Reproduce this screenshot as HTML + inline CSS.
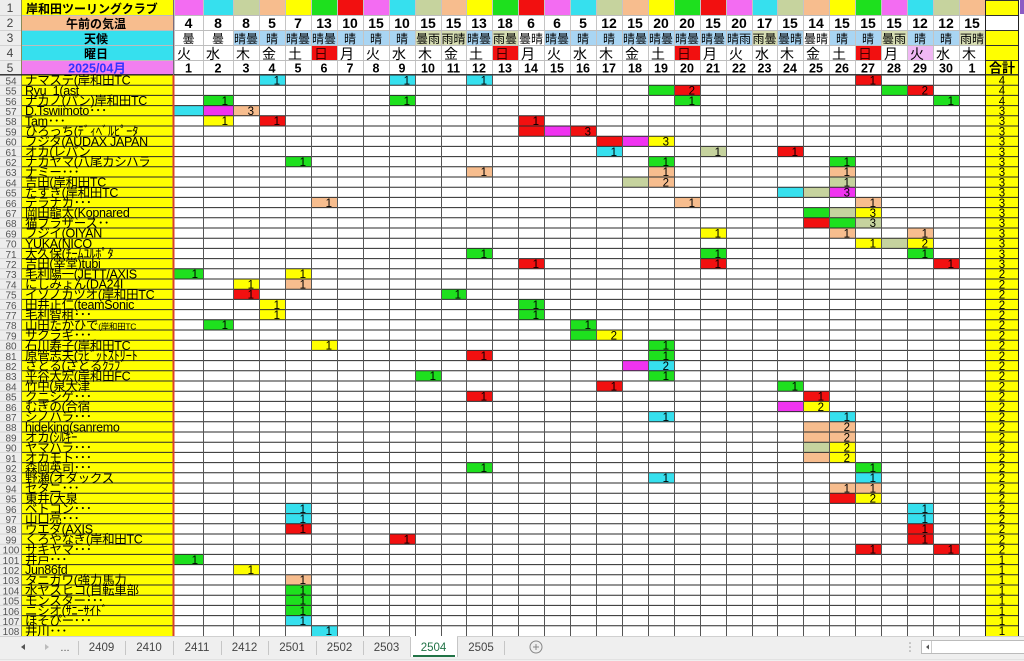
<!DOCTYPE html>
<html><head><meta charset="utf-8">
<style>
html,body{margin:0;padding:0;background:#fff;width:1024px;height:661px;overflow:hidden}
svg{display:block}
.P{fill:#f36cf2}.C{fill:#36e0ee}.G{fill:#c6d39e}.O{fill:#f7bd8e}.Y{fill:#ffff00}.N{fill:#1ee01e}.R{fill:#f21010}.M{fill:#f033f0}.L{fill:#a9d5f3}.H{fill:#d6ddb3}
text{font-family:"Liberation Sans","Noto Sans CJK JP",sans-serif}
.n{font-size:11.5px;text-anchor:end;fill:#000}
.t{font-size:11.5px;text-anchor:middle;fill:#000}
.rn{font-size:10px;text-anchor:middle;fill:#555}
.nm{font-size:12.5px;fill:#000;letter-spacing:-0.3px}
.h2{font-size:14px;font-weight:bold;text-anchor:middle}
.h3{font-size:12px;text-anchor:middle}
.h4{font-size:14px}
.h5{font-size:12.5px;font-weight:bold;text-anchor:middle}
.tab{font-size:11.5px;text-anchor:middle;fill:#444}
</style></head>
<body>
<svg width="1024" height="661" viewBox="0 0 1024 661" xmlns="http://www.w3.org/2000/svg">
<rect x="0" y="0" width="1024" height="661" fill="#fff"/>
<rect x="0" y="0" width="22" height="636" fill="#ededed"/>
<rect x="22" y="0" width="152" height="15" class="Y"/>
<rect x="22" y="15" width="152" height="15" class="O"/>
<rect x="22" y="30" width="152" height="31" class="C"/>
<rect x="22" y="61" width="152" height="14" fill="#f27ff0"/>
<rect x="22" y="75" width="151" height="561" class="Y"/>
<rect x="985" y="0" width="34" height="15" class="Y"/>
<rect x="985" y="30" width="34" height="606" class="Y"/>
<rect x="1020" y="0" width="4" height="14" fill="#8b5cc4"/>

<g>
<rect class="P" x="174" y="0" width="29" height="15"/><rect class="C" x="203" y="0" width="30" height="15"/><rect class="G" x="233" y="0" width="26" height="15"/><rect class="O" x="259" y="0" width="26" height="15"/><rect class="Y" x="285" y="0" width="26" height="15"/><rect class="N" x="311" y="0" width="26" height="15"/><rect class="R" x="337" y="0" width="26" height="15"/><rect class="P" x="363" y="0" width="26" height="15"/><rect class="C" x="389" y="0" width="26" height="15"/><rect class="G" x="415" y="0" width="26" height="15"/><rect class="O" x="441" y="0" width="25" height="15"/><rect class="Y" x="466" y="0" width="26" height="15"/><rect class="N" x="492" y="0" width="26" height="15"/><rect class="R" x="518" y="0" width="26" height="15"/><rect class="P" x="544" y="0" width="26" height="15"/><rect class="C" x="570" y="0" width="26" height="15"/><rect class="G" x="596" y="0" width="26" height="15"/><rect class="O" x="622" y="0" width="26" height="15"/><rect class="Y" x="648" y="0" width="26" height="15"/><rect class="N" x="674" y="0" width="26" height="15"/><rect class="R" x="700" y="0" width="26" height="15"/><rect class="P" x="726" y="0" width="26" height="15"/><rect class="C" x="752" y="0" width="25" height="15"/><rect class="G" x="777" y="0" width="26" height="15"/><rect class="O" x="803" y="0" width="26" height="15"/><rect class="Y" x="829" y="0" width="26" height="15"/><rect class="N" x="855" y="0" width="26" height="15"/><rect class="P" x="881" y="0" width="26" height="15"/><rect class="C" x="907" y="0" width="26" height="15"/><rect class="G" x="933" y="0" width="26" height="15"/><rect class="O" x="959" y="0" width="26" height="15"/>
</g>
<g>
<rect class="L" x="234" y="31" width="25" height="15"/><rect class="L" x="260" y="31" width="25" height="15"/><rect class="L" x="286" y="31" width="25" height="15"/><rect class="L" x="312" y="31" width="25" height="15"/><rect class="L" x="338" y="31" width="25" height="15"/><rect class="L" x="364" y="31" width="25" height="15"/><rect class="L" x="390" y="31" width="25" height="15"/><rect class="H" x="416" y="31" width="25" height="15"/><rect class="H" x="442" y="31" width="24" height="15"/><rect class="L" x="467" y="31" width="25" height="15"/><rect class="H" x="493" y="31" width="25" height="15"/><rect class="L" x="545" y="31" width="25" height="15"/><rect class="L" x="571" y="31" width="25" height="15"/><rect class="L" x="597" y="31" width="25" height="15"/><rect class="L" x="623" y="31" width="25" height="15"/><rect class="L" x="649" y="31" width="25" height="15"/><rect class="L" x="675" y="31" width="25" height="15"/><rect class="L" x="701" y="31" width="25" height="15"/><rect class="L" x="727" y="31" width="25" height="15"/><rect class="H" x="753" y="31" width="24" height="15"/><rect class="L" x="778" y="31" width="25" height="15"/><rect class="L" x="830" y="31" width="25" height="15"/><rect class="L" x="856" y="31" width="25" height="15"/><rect class="H" x="882" y="31" width="25" height="15"/><rect class="L" x="908" y="31" width="25" height="15"/><rect class="L" x="934" y="31" width="25" height="15"/><rect class="H" x="960" y="31" width="25" height="15"/>
</g>
<rect class="R" x="311" y="46" width="26" height="15"/><rect class="R" x="492" y="46" width="26" height="15"/><rect class="R" x="674" y="46" width="26" height="15"/><rect class="R" x="855" y="46" width="26" height="15"/><rect fill="#f0b8f4" x="907" y="46" width="26" height="15"/>

<g>
<rect class="C" x="259" y="75" width="26" height="10.2"/><rect class="C" x="389" y="75" width="26" height="10.2"/><rect class="C" x="466" y="75" width="26" height="10.2"/><rect class="R" x="855" y="75" width="26" height="10.2"/>
<rect class="N" x="648" y="85.2" width="26" height="10.2"/><rect class="R" x="674" y="85.2" width="26" height="10.2"/><rect class="N" x="881" y="85.2" width="26" height="10.2"/><rect class="R" x="907" y="85.2" width="26" height="10.2"/>
<rect class="N" x="203" y="95.4" width="30" height="10.2"/><rect class="N" x="389" y="95.4" width="26" height="10.2"/><rect class="N" x="674" y="95.4" width="26" height="10.2"/><rect class="N" x="933" y="95.4" width="26" height="10.2"/>
<rect class="C" x="174" y="105.6" width="29" height="10.2"/><rect class="M" x="203" y="105.6" width="30" height="10.2"/><rect class="O" x="233" y="105.6" width="26" height="10.2"/>
<rect class="Y" x="203" y="115.8" width="30" height="10.2"/><rect class="R" x="259" y="115.8" width="26" height="10.2"/><rect class="R" x="518" y="115.8" width="26" height="10.2"/>
<rect class="R" x="518" y="126" width="26" height="10.2"/><rect class="M" x="544" y="126" width="26" height="10.2"/><rect class="R" x="570" y="126" width="26" height="10.2"/>
<rect class="R" x="596" y="136.2" width="26" height="10.2"/><rect class="M" x="622" y="136.2" width="26" height="10.2"/><rect class="Y" x="648" y="136.2" width="26" height="10.2"/>
<rect class="C" x="596" y="146.4" width="26" height="10.2"/><rect class="G" x="700" y="146.4" width="26" height="10.2"/><rect class="R" x="777" y="146.4" width="26" height="10.2"/>
<rect class="N" x="285" y="156.6" width="26" height="10.2"/><rect class="N" x="648" y="156.6" width="26" height="10.2"/><rect class="N" x="829" y="156.6" width="26" height="10.2"/>
<rect class="O" x="466" y="166.8" width="26" height="10.2"/><rect class="O" x="648" y="166.8" width="26" height="10.2"/><rect class="O" x="829" y="166.8" width="26" height="10.2"/>
<rect class="G" x="622" y="177" width="26" height="10.2"/><rect class="O" x="648" y="177" width="26" height="10.2"/><rect class="G" x="829" y="177" width="26" height="10.2"/>
<rect class="C" x="777" y="187.2" width="26" height="10.2"/><rect class="G" x="803" y="187.2" width="26" height="10.2"/><rect class="M" x="829" y="187.2" width="26" height="10.2"/>
<rect class="O" x="311" y="197.4" width="26" height="10.2"/><rect class="O" x="674" y="197.4" width="26" height="10.2"/><rect class="O" x="855" y="197.4" width="26" height="10.2"/>
<rect class="N" x="803" y="207.6" width="26" height="10.2"/><rect class="G" x="829" y="207.6" width="26" height="10.2"/><rect class="Y" x="855" y="207.6" width="26" height="10.2"/>
<rect class="R" x="803" y="217.8" width="26" height="10.2"/><rect class="N" x="829" y="217.8" width="26" height="10.2"/><rect class="G" x="855" y="217.8" width="26" height="10.2"/>
<rect class="Y" x="700" y="228" width="26" height="10.2"/><rect class="O" x="829" y="228" width="26" height="10.2"/><rect class="O" x="907" y="228" width="26" height="10.2"/>
<rect class="Y" x="855" y="238.2" width="26" height="10.2"/><rect class="G" x="881" y="238.2" width="26" height="10.2"/><rect class="Y" x="907" y="238.2" width="26" height="10.2"/>
<rect class="N" x="466" y="248.4" width="26" height="10.2"/><rect class="N" x="700" y="248.4" width="26" height="10.2"/><rect class="N" x="907" y="248.4" width="26" height="10.2"/>
<rect class="R" x="518" y="258.6" width="26" height="10.2"/><rect class="R" x="700" y="258.6" width="26" height="10.2"/><rect class="R" x="933" y="258.6" width="26" height="10.2"/>
<rect class="N" x="174" y="268.8" width="29" height="10.2"/><rect class="Y" x="285" y="268.8" width="26" height="10.2"/>
<rect class="Y" x="233" y="279" width="26" height="10.2"/><rect class="O" x="285" y="279" width="26" height="10.2"/>
<rect class="R" x="233" y="289.2" width="26" height="10.2"/><rect class="N" x="441" y="289.2" width="25" height="10.2"/>
<rect class="Y" x="259" y="299.4" width="26" height="10.2"/><rect class="N" x="518" y="299.4" width="26" height="10.2"/>
<rect class="Y" x="259" y="309.6" width="26" height="10.2"/><rect class="N" x="518" y="309.6" width="26" height="10.2"/>
<rect class="N" x="203" y="319.8" width="30" height="10.2"/><rect class="N" x="570" y="319.8" width="26" height="10.2"/>
<rect class="N" x="570" y="330" width="26" height="10.2"/><rect class="Y" x="596" y="330" width="26" height="10.2"/>
<rect class="Y" x="311" y="340.2" width="26" height="10.2"/><rect class="N" x="648" y="340.2" width="26" height="10.2"/>
<rect class="R" x="466" y="350.4" width="26" height="10.2"/><rect class="N" x="648" y="350.4" width="26" height="10.2"/>
<rect class="M" x="622" y="360.6" width="26" height="10.2"/><rect class="C" x="648" y="360.6" width="26" height="10.2"/>
<rect class="N" x="415" y="370.8" width="26" height="10.2"/><rect class="N" x="648" y="370.8" width="26" height="10.2"/>
<rect class="R" x="596" y="381" width="26" height="10.2"/><rect class="N" x="777" y="381" width="26" height="10.2"/>
<rect class="R" x="466" y="391.2" width="26" height="10.2"/><rect class="R" x="803" y="391.2" width="26" height="10.2"/>
<rect class="M" x="777" y="401.4" width="26" height="10.2"/><rect class="Y" x="803" y="401.4" width="26" height="10.2"/>
<rect class="C" x="648" y="411.6" width="26" height="10.2"/><rect class="C" x="829" y="411.6" width="26" height="10.2"/>
<rect class="O" x="803" y="421.8" width="26" height="10.2"/><rect class="O" x="829" y="421.8" width="26" height="10.2"/>
<rect class="O" x="803" y="432" width="26" height="10.2"/><rect class="O" x="829" y="432" width="26" height="10.2"/>
<rect class="G" x="803" y="442.2" width="26" height="10.2"/><rect class="Y" x="829" y="442.2" width="26" height="10.2"/>
<rect class="O" x="803" y="452.4" width="26" height="10.2"/><rect class="Y" x="829" y="452.4" width="26" height="10.2"/>
<rect class="N" x="466" y="462.6" width="26" height="10.2"/><rect class="N" x="855" y="462.6" width="26" height="10.2"/>
<rect class="C" x="648" y="472.8" width="26" height="10.2"/><rect class="C" x="855" y="472.8" width="26" height="10.2"/>
<rect class="O" x="829" y="483" width="26" height="10.2"/><rect class="O" x="855" y="483" width="26" height="10.2"/>
<rect class="R" x="829" y="493.2" width="26" height="10.2"/><rect class="Y" x="855" y="493.2" width="26" height="10.2"/>
<rect class="C" x="285" y="503.4" width="26" height="10.2"/><rect class="C" x="907" y="503.4" width="26" height="10.2"/>
<rect class="C" x="285" y="513.6" width="26" height="10.2"/><rect class="C" x="907" y="513.6" width="26" height="10.2"/>
<rect class="R" x="285" y="523.8" width="26" height="10.2"/><rect class="R" x="907" y="523.8" width="26" height="10.2"/>
<rect class="R" x="389" y="534" width="26" height="10.2"/><rect class="R" x="907" y="534" width="26" height="10.2"/>
<rect class="R" x="855" y="544.2" width="26" height="10.2"/><rect class="R" x="933" y="544.2" width="26" height="10.2"/>
<rect class="N" x="174" y="554.4" width="29" height="10.2"/>
<rect class="Y" x="233" y="564.6" width="26" height="10.2"/>
<rect class="O" x="285" y="574.8" width="26" height="10.2"/>
<rect class="N" x="285" y="585" width="26" height="10.2"/>
<rect class="N" x="285" y="595.2" width="26" height="10.2"/>
<rect class="N" x="285" y="605.4" width="26" height="10.2"/>
<rect class="C" x="285" y="615.6" width="26" height="10.2"/>
<rect class="C" x="311" y="625.8" width="26" height="10.2"/>
</g>

<path d="M174.5 0V75M203.5 0V75M233.5 0V75M259.5 0V75M285.5 0V75M311.5 0V75M337.5 0V75M363.5 0V75M389.5 0V75M415.5 0V75M441.5 0V75M466.5 0V75M492.5 0V75M518.5 0V75M544.5 0V75M570.5 0V75M596.5 0V75M622.5 0V75M648.5 0V75M674.5 0V75M700.5 0V75M726.5 0V75M752.5 0V75M777.5 0V75M803.5 0V75M829.5 0V75M855.5 0V75M881.5 0V75M907.5 0V75M933.5 0V75M959.5 0V75" stroke="#c4c4c4" stroke-width="1" fill="none"/>
<path d="M22 15.5H985M22 30.5H985M22 45.5H985M22 60.5H985" stroke="#bdbdbd" stroke-width="1" fill="none"/>
<path d="M985 0.5H1019M985 15.5H1019M985 30.5H1019M985 45.5H1019M985 60.5H1019" stroke="#333" stroke-width="1" fill="none"/>
<path d="M0 15.5H22M0 30.5H22M0 45.5H22M0 60.5H22M0 85.2H22M0 95.4H22M0 105.6H22M0 115.8H22M0 126H22M0 136.2H22M0 146.4H22M0 156.6H22M0 166.8H22M0 177H22M0 187.2H22M0 197.4H22M0 207.6H22M0 217.8H22M0 228H22M0 238.2H22M0 248.4H22M0 258.6H22M0 268.8H22M0 279H22M0 289.2H22M0 299.4H22M0 309.6H22M0 319.8H22M0 330H22M0 340.2H22M0 350.4H22M0 360.6H22M0 370.8H22M0 381H22M0 391.2H22M0 401.4H22M0 411.6H22M0 421.8H22M0 432H22M0 442.2H22M0 452.4H22M0 462.6H22M0 472.8H22M0 483H22M0 493.2H22M0 503.4H22M0 513.6H22M0 523.8H22M0 534H22M0 544.2H22M0 554.4H22M0 564.6H22M0 574.8H22M0 585H22M0 595.2H22M0 605.4H22M0 615.6H22M0 625.8H22" stroke="#d2d2d2" stroke-width="1" fill="none"/>
<line x1="21.5" y1="0" x2="21.5" y2="636" stroke="#8a8a5a" stroke-width="1"/>
<path d="M22 85.2H1019M22 95.4H1019M22 105.6H1019M22 115.8H1019M22 126H1019M22 136.2H1019M22 146.4H1019M22 156.6H1019M22 166.8H1019M22 177H1019M22 187.2H1019M22 197.4H1019M22 207.6H1019M22 217.8H1019M22 228H1019M22 238.2H1019M22 248.4H1019M22 258.6H1019M22 268.8H1019M22 279H1019M22 289.2H1019M22 299.4H1019M22 309.6H1019M22 319.8H1019M22 330H1019M22 340.2H1019M22 350.4H1019M22 360.6H1019M22 370.8H1019M22 381H1019M22 391.2H1019M22 401.4H1019M22 411.6H1019M22 421.8H1019M22 432H1019M22 442.2H1019M22 452.4H1019M22 462.6H1019M22 472.8H1019M22 483H1019M22 493.2H1019M22 503.4H1019M22 513.6H1019M22 523.8H1019M22 534H1019M22 544.2H1019M22 554.4H1019M22 564.6H1019M22 574.8H1019M22 585H1019M22 595.2H1019M22 605.4H1019M22 615.6H1019M22 625.8H1019" stroke="#2a2a2a" stroke-width="1" fill="none"/>
<line x1="0" y1="74.8" x2="1019" y2="74.8" stroke="#222" stroke-width="1.4"/>
<path d="M203.5 75V636M233.5 75V636M259.5 75V636M285.5 75V636M311.5 75V636M337.5 75V636M363.5 75V636M389.5 75V636M415.5 75V636M441.5 75V636M466.5 75V636M492.5 75V636M518.5 75V636M544.5 75V636M570.5 75V636M596.5 75V636M622.5 75V636M648.5 75V636M674.5 75V636M700.5 75V636M726.5 75V636M752.5 75V636M777.5 75V636M803.5 75V636M829.5 75V636M855.5 75V636M881.5 75V636M907.5 75V636M933.5 75V636M959.5 75V636" stroke="#555" stroke-width="1" fill="none"/>
<path d="M985.5 0V636M1018.5 0V636" stroke="#222" stroke-width="1" fill="none"/>
<rect x="172.5" y="75" width="2" height="561" fill="#d8402c"/>
<line x1="173.5" y1="0" x2="173.5" y2="75" stroke="#7a6a7a" stroke-width="1"/>

<text x="10" y="12" style="font-size:12px;text-anchor:middle;fill:#444">1</text>
<text x="10" y="27" style="font-size:12px;text-anchor:middle;fill:#444">2</text>
<text x="10" y="42" style="font-size:12px;text-anchor:middle;fill:#444">3</text>
<text x="10" y="57" style="font-size:12px;text-anchor:middle;fill:#444">4</text>
<text x="10" y="72" style="font-size:12px;text-anchor:middle;fill:#444">5</text>
<text x="26" y="13" style="font-size:12px;font-weight:bold">岸和田ツーリングクラブ</text>
<text x="96" y="28" style="font-size:12px;font-weight:bold;text-anchor:middle">午前の気温</text>
<text x="96" y="43" style="font-size:12px;font-weight:bold;text-anchor:middle">天候</text>
<text x="96" y="58" style="font-size:12px;font-weight:bold;text-anchor:middle">曜日</text>
<text x="97" y="72.5" style="font-size:12.5px;font-weight:bold;text-anchor:middle;fill:#3333ff">2025/04月</text>

<g>
<text class="h2" x="188.5" y="28">4</text><text class="h2" x="218" y="28">8</text><text class="h2" x="246" y="28">8</text><text class="h2" x="272" y="28">5</text><text class="h2" x="298" y="28">7</text><text class="h2" x="324" y="28">13</text><text class="h2" x="350" y="28">10</text><text class="h2" x="376" y="28">15</text><text class="h2" x="402" y="28">10</text><text class="h2" x="428" y="28">15</text><text class="h2" x="453.5" y="28">15</text><text class="h2" x="479" y="28">13</text><text class="h2" x="505" y="28">18</text><text class="h2" x="531" y="28">6</text><text class="h2" x="557" y="28">6</text><text class="h2" x="583" y="28">5</text><text class="h2" x="609" y="28">12</text><text class="h2" x="635" y="28">15</text><text class="h2" x="661" y="28">20</text><text class="h2" x="687" y="28">20</text><text class="h2" x="713" y="28">15</text><text class="h2" x="739" y="28">20</text><text class="h2" x="764.5" y="28">17</text><text class="h2" x="790" y="28">15</text><text class="h2" x="816" y="28">14</text><text class="h2" x="842" y="28">15</text><text class="h2" x="868" y="28">15</text><text class="h2" x="894" y="28">15</text><text class="h2" x="920" y="28">12</text><text class="h2" x="946" y="28">12</text><text class="h2" x="972" y="28">15</text>
</g>
<g>
<text class="h3" x="188.5" y="43">曇</text><text class="h3" x="218" y="43">曇</text><text class="h3" x="246" y="43">晴曇</text><text class="h3" x="272" y="43">晴</text><text class="h3" x="298" y="43">晴曇</text><text class="h3" x="324" y="43">晴曇</text><text class="h3" x="350" y="43">晴</text><text class="h3" x="376" y="43">晴</text><text class="h3" x="402" y="43">晴</text><text class="h3" x="428" y="43">曇雨</text><text class="h3" x="453.5" y="43">雨晴</text><text class="h3" x="479" y="43">晴曇</text><text class="h3" x="505" y="43">雨曇</text><text class="h3" x="531" y="43">曇晴</text><text class="h3" x="557" y="43">晴曇</text><text class="h3" x="583" y="43">晴</text><text class="h3" x="609" y="43">晴</text><text class="h3" x="635" y="43">晴曇</text><text class="h3" x="661" y="43">晴曇</text><text class="h3" x="687" y="43">晴曇</text><text class="h3" x="713" y="43">晴曇</text><text class="h3" x="739" y="43">晴雨</text><text class="h3" x="764.5" y="43">雨曇</text><text class="h3" x="790" y="43">曇晴</text><text class="h3" x="816" y="43">曇晴</text><text class="h3" x="842" y="43">晴</text><text class="h3" x="868" y="43">晴</text><text class="h3" x="894" y="43">曇雨</text><text class="h3" x="920" y="43">晴</text><text class="h3" x="946" y="43">晴</text><text class="h3" x="972" y="43">雨晴</text>
</g>
<g>
<text class="h4" x="177" y="59">火</text><text class="h4" x="206" y="59">水</text><text class="h4" x="236" y="59">木</text><text class="h4" x="262" y="59">金</text><text class="h4" x="288" y="59">土</text><text class="h4" x="314" y="59" fill="#400">日</text><text class="h4" x="340" y="59">月</text><text class="h4" x="366" y="59">火</text><text class="h4" x="392" y="59">水</text><text class="h4" x="418" y="59">木</text><text class="h4" x="444" y="59">金</text><text class="h4" x="469" y="59">土</text><text class="h4" x="495" y="59" fill="#400">日</text><text class="h4" x="521" y="59">月</text><text class="h4" x="547" y="59">火</text><text class="h4" x="573" y="59">水</text><text class="h4" x="599" y="59">木</text><text class="h4" x="625" y="59">金</text><text class="h4" x="651" y="59">土</text><text class="h4" x="677" y="59" fill="#400">日</text><text class="h4" x="703" y="59">月</text><text class="h4" x="729" y="59">火</text><text class="h4" x="755" y="59">水</text><text class="h4" x="780" y="59">木</text><text class="h4" x="806" y="59">金</text><text class="h4" x="832" y="59">土</text><text class="h4" x="858" y="59" fill="#400">日</text><text class="h4" x="884" y="59">月</text><text class="h4" x="910" y="59">火</text><text class="h4" x="936" y="59">水</text><text class="h4" x="962" y="59">木</text>
</g>
<g>
<text class="h5" x="188.5" y="72.5">1</text><text class="h5" x="218" y="72.5">2</text><text class="h5" x="246" y="72.5">3</text><text class="h5" x="272" y="72.5">4</text><text class="h5" x="298" y="72.5">5</text><text class="h5" x="324" y="72.5">6</text><text class="h5" x="350" y="72.5">7</text><text class="h5" x="376" y="72.5">8</text><text class="h5" x="402" y="72.5">9</text><text class="h5" x="428" y="72.5">10</text><text class="h5" x="453.5" y="72.5">11</text><text class="h5" x="479" y="72.5">12</text><text class="h5" x="505" y="72.5">13</text><text class="h5" x="531" y="72.5">14</text><text class="h5" x="557" y="72.5">15</text><text class="h5" x="583" y="72.5">16</text><text class="h5" x="609" y="72.5">17</text><text class="h5" x="635" y="72.5">18</text><text class="h5" x="661" y="72.5">19</text><text class="h5" x="687" y="72.5">20</text><text class="h5" x="713" y="72.5">21</text><text class="h5" x="739" y="72.5">22</text><text class="h5" x="764.5" y="72.5">23</text><text class="h5" x="790" y="72.5">24</text><text class="h5" x="816" y="72.5">25</text><text class="h5" x="842" y="72.5">26</text><text class="h5" x="868" y="72.5">27</text><text class="h5" x="894" y="72.5">28</text><text class="h5" x="920" y="72.5">29</text><text class="h5" x="946" y="72.5">30</text><text class="h5" x="972" y="72.5">1</text>
<text x="1002" y="72.5" style="font-size:13px;font-weight:bold;text-anchor:middle">合計</text>
</g>

<g>
<text class="rn" x="11" y="84.4">54</text><text class="rn" x="11" y="94.6">55</text><text class="rn" x="11" y="104.8">56</text><text class="rn" x="11" y="115">57</text><text class="rn" x="11" y="125.2">58</text><text class="rn" x="11" y="135.4">59</text><text class="rn" x="11" y="145.6">60</text><text class="rn" x="11" y="155.8">61</text><text class="rn" x="11" y="166">62</text><text class="rn" x="11" y="176.2">63</text><text class="rn" x="11" y="186.4">64</text><text class="rn" x="11" y="196.6">65</text><text class="rn" x="11" y="206.8">66</text><text class="rn" x="11" y="217">67</text><text class="rn" x="11" y="227.2">68</text><text class="rn" x="11" y="237.4">69</text><text class="rn" x="11" y="247.6">70</text><text class="rn" x="11" y="257.8">71</text><text class="rn" x="11" y="268">72</text><text class="rn" x="11" y="278.2">73</text><text class="rn" x="11" y="288.4">74</text><text class="rn" x="11" y="298.6">75</text><text class="rn" x="11" y="308.8">76</text><text class="rn" x="11" y="319">77</text><text class="rn" x="11" y="329.2">78</text><text class="rn" x="11" y="339.4">79</text><text class="rn" x="11" y="349.6">80</text><text class="rn" x="11" y="359.8">81</text><text class="rn" x="11" y="370">82</text><text class="rn" x="11" y="380.2">83</text><text class="rn" x="11" y="390.4">84</text><text class="rn" x="11" y="400.6">85</text><text class="rn" x="11" y="410.8">86</text><text class="rn" x="11" y="421">87</text><text class="rn" x="11" y="431.2">88</text><text class="rn" x="11" y="441.4">89</text><text class="rn" x="11" y="451.6">90</text><text class="rn" x="11" y="461.8">91</text><text class="rn" x="11" y="472">92</text><text class="rn" x="11" y="482.2">93</text><text class="rn" x="11" y="492.4">94</text><text class="rn" x="11" y="502.6">95</text><text class="rn" x="11" y="512.8">96</text><text class="rn" x="11" y="523">97</text><text class="rn" x="11" y="533.2">98</text><text class="rn" x="11" y="543.4">99</text><text class="rn" x="11" y="553.6">100</text><text class="rn" x="11" y="563.8">101</text><text class="rn" x="11" y="574">102</text><text class="rn" x="11" y="584.2">103</text><text class="rn" x="11" y="594.4">104</text><text class="rn" x="11" y="604.6">105</text><text class="rn" x="11" y="614.8">106</text><text class="rn" x="11" y="625">107</text><text class="rn" x="11" y="635.2">108</text>
</g>

<g>
<text class="nm" x="25" y="84.6">ナマステ(岸和田TC</text>
<text class="nm" x="25" y="94.8" xml:space="preserve">Ryu  1(ast</text>
<text class="nm" x="25" y="105">ナカノ(パン)岸和田TC</text>
<text class="nm" x="25" y="115.2">D.Tswiimoto･･･</text>
<text class="nm" x="25" y="125.4">Tam･･･</text>
<text class="nm" x="25" y="135.6">ひろっち(ﾃﾞｨﾍﾞﾙﾋﾟｰﾀ</text>
<text class="nm" x="25" y="145.8">フジタ(AUDAX  JAPAN</text>
<text class="nm" x="25" y="156">オカ(レパン</text>
<text class="nm" x="25" y="166.2">ナカヤマ(八尾カシハラ</text>
<text class="nm" x="25" y="176.4">ナミー･･･</text>
<text class="nm" x="25" y="186.6">吉田(岸和田TC</text>
<text class="nm" x="25" y="196.8">たすき(岸和田TC</text>
<text class="nm" x="25" y="207">テラナカ･･･</text>
<text class="nm" x="25" y="217.2">岡田龍太(Kopnared</text>
<text class="nm" x="25" y="227.4">猫ブラザース･･</text>
<text class="nm" x="25" y="237.6">フジイ(OIYAN</text>
<text class="nm" x="25" y="247.8">YUKA(NICO</text>
<text class="nm" x="25" y="258">大久保(ﾁｰﾑﾕﾙﾎﾟﾀ</text>
<text class="nm" x="25" y="268.2">吉田(宰堂)tubi</text>
<text class="nm" x="25" y="278.4">毛利陽一(JETT/AXIS</text>
<text class="nm" x="25" y="288.6">にしみょん(DA24I</text>
<text class="nm" x="25" y="298.8">イソノカツオ(岸和田TC</text>
<text class="nm" x="25" y="309">田井正仁(teamSonic</text>
<text class="nm" x="25" y="319.2">毛利智租･･･</text>
<text class="nm" x="25" y="329.4">山田たかひで<tspan style="font-size:8.5px">(岸和田TC</tspan></text>
<text class="nm" x="25" y="339.6">サクラギ･･･</text>
<text class="nm" x="25" y="349.8">石川寿子(岸和田TC</text>
<text class="nm" x="25" y="360">原管志夫(ﾗﾋﾞｯﾄｽﾄﾘｰﾄ</text>
<text class="nm" x="25" y="370.2">さとる(さとるｸﾗﾌﾞ</text>
<text class="nm" x="25" y="380.4">平谷大宏(岸和田FC</text>
<text class="nm" x="25" y="390.6">竹中(泉大津</text>
<text class="nm" x="25" y="400.8">クニシゲ･･･</text>
<text class="nm" x="25" y="411">むぎの(合宿</text>
<text class="nm" x="25" y="421.2">シノハラ･･･</text>
<text class="nm" x="25" y="431.4">hideking(sanremo</text>
<text class="nm" x="25" y="441.6">オカ(ｼﾙｷｰ</text>
<text class="nm" x="25" y="451.8">ヤマハラ･･･</text>
<text class="nm" x="25" y="462">オカモト･･･</text>
<text class="nm" x="25" y="472.2">森岡英司･･･</text>
<text class="nm" x="25" y="482.4">野瀬(オダックス</text>
<text class="nm" x="25" y="492.6">セタニ･･･</text>
<text class="nm" x="25" y="502.8">東井(大泉</text>
<text class="nm" x="25" y="513">ベトコン･･･</text>
<text class="nm" x="25" y="523.2">山口亮･･･</text>
<text class="nm" x="25" y="533.4">ウエダ(AXIS</text>
<text class="nm" x="25" y="543.6">くろやなぎ(岸和田TC</text>
<text class="nm" x="25" y="553.8">サキヤマ･･･</text>
<text class="nm" x="25" y="564">井戸･･･</text>
<text class="nm" x="25" y="574.2">Jun86fd</text>
<text class="nm" x="25" y="584.4">タニガワ(強力馬力</text>
<text class="nm" x="25" y="594.6">水ヤスヒコ(自転車部</text>
<text class="nm" x="25" y="604.8">モンスター･･･</text>
<text class="nm" x="25" y="615">ニシオ(ｻﾆｰｻｲﾄﾞ</text>
<text class="nm" x="25" y="625.2">ほそぴー･･･</text>
<text class="nm" x="25" y="635.4">井川･･･</text>
</g>

<g>
<text class="n" x="280" y="84.4">1</text><text class="n" x="410" y="84.4">1</text><text class="n" x="487" y="84.4">1</text><text class="n" x="876" y="84.4">1</text>
<text class="n" x="695" y="94.6">2</text><text class="n" x="928" y="94.6">2</text>
<text class="n" x="228" y="104.8">1</text><text class="n" x="410" y="104.8">1</text><text class="n" x="695" y="104.8">1</text><text class="n" x="954" y="104.8">1</text>
<text class="n" x="254" y="115">3</text>
<text class="n" x="228" y="125.2">1</text><text class="n" x="280" y="125.2">1</text><text class="n" x="539" y="125.2">1</text>
<text class="n" x="591" y="135.4">3</text>
<text class="n" x="669" y="145.6">3</text>
<text class="n" x="617" y="155.8">1</text><text class="n" x="721" y="155.8">1</text><text class="n" x="798" y="155.8">1</text>
<text class="n" x="306" y="166">1</text><text class="n" x="669" y="166">1</text><text class="n" x="850" y="166">1</text>
<text class="n" x="487" y="176.2">1</text><text class="n" x="669" y="176.2">1</text><text class="n" x="850" y="176.2">1</text>
<text class="n" x="669" y="186.4">2</text><text class="n" x="850" y="186.4">1</text>
<text class="n" x="850" y="196.6">3</text>
<text class="n" x="332" y="206.8">1</text><text class="n" x="695" y="206.8">1</text><text class="n" x="876" y="206.8">1</text>
<text class="n" x="876" y="217">3</text>
<text class="n" x="876" y="227.2">3</text>
<text class="n" x="721" y="237.4">1</text><text class="n" x="850" y="237.4">1</text><text class="n" x="928" y="237.4">1</text>
<text class="n" x="876" y="247.6">1</text><text class="n" x="928" y="247.6">2</text>
<text class="n" x="487" y="257.8">1</text><text class="n" x="721" y="257.8">1</text><text class="n" x="928" y="257.8">1</text>
<text class="n" x="539" y="268">1</text><text class="n" x="721" y="268">1</text><text class="n" x="954" y="268">1</text>
<text class="n" x="198" y="278.2">1</text><text class="n" x="306" y="278.2">1</text>
<text class="n" x="254" y="288.4">1</text><text class="n" x="306" y="288.4">1</text>
<text class="n" x="254" y="298.6">1</text><text class="n" x="461" y="298.6">1</text>
<text class="n" x="280" y="308.8">1</text><text class="n" x="539" y="308.8">1</text>
<text class="n" x="280" y="319">1</text><text class="n" x="539" y="319">1</text>
<text class="n" x="228" y="329.2">1</text><text class="n" x="591" y="329.2">1</text>
<text class="n" x="617" y="339.4">2</text>
<text class="n" x="332" y="349.6">1</text><text class="n" x="669" y="349.6">1</text>
<text class="n" x="487" y="359.8">1</text><text class="n" x="669" y="359.8">1</text>
<text class="n" x="669" y="370">2</text>
<text class="n" x="436" y="380.2">1</text><text class="n" x="669" y="380.2">1</text>
<text class="n" x="617" y="390.4">1</text><text class="n" x="798" y="390.4">1</text>
<text class="n" x="487" y="400.6">1</text><text class="n" x="824" y="400.6">1</text>
<text class="n" x="824" y="410.8">2</text>
<text class="n" x="669" y="421">1</text><text class="n" x="850" y="421">1</text>
<text class="n" x="850" y="431.2">2</text>
<text class="n" x="850" y="441.4">2</text>
<text class="n" x="850" y="451.6">2</text>
<text class="n" x="850" y="461.8">2</text>
<text class="n" x="487" y="472">1</text><text class="n" x="876" y="472">1</text>
<text class="n" x="669" y="482.2">1</text><text class="n" x="876" y="482.2">1</text>
<text class="n" x="850" y="492.4">1</text><text class="n" x="876" y="492.4">1</text>
<text class="n" x="876" y="502.6">2</text>
<text class="n" x="306" y="512.8">1</text><text class="n" x="928" y="512.8">1</text>
<text class="n" x="306" y="523">1</text><text class="n" x="928" y="523">1</text>
<text class="n" x="306" y="533.2">1</text><text class="n" x="928" y="533.2">1</text>
<text class="n" x="410" y="543.4">1</text><text class="n" x="928" y="543.4">1</text>
<text class="n" x="876" y="553.6">1</text><text class="n" x="954" y="553.6">1</text>
<text class="n" x="198" y="563.8">1</text>
<text class="n" x="254" y="574">1</text>
<text class="n" x="306" y="584.2">1</text>
<text class="n" x="306" y="594.4">1</text>
<text class="n" x="306" y="604.6">1</text>
<text class="n" x="306" y="614.8">1</text>
<text class="n" x="306" y="625">1</text>
<text class="n" x="332" y="635.2">1</text>
</g>

<g>
<text class="t" x="1002" y="84.4">4</text><text class="t" x="1002" y="94.6">4</text><text class="t" x="1002" y="104.8">4</text>
<text class="t" x="1002" y="115">3</text><text class="t" x="1002" y="125.2">3</text><text class="t" x="1002" y="135.4">3</text><text class="t" x="1002" y="145.6">3</text><text class="t" x="1002" y="155.8">3</text><text class="t" x="1002" y="166">3</text><text class="t" x="1002" y="176.2">3</text><text class="t" x="1002" y="186.4">3</text><text class="t" x="1002" y="196.6">3</text><text class="t" x="1002" y="206.8">3</text><text class="t" x="1002" y="217">3</text><text class="t" x="1002" y="227.2">3</text><text class="t" x="1002" y="237.4">3</text><text class="t" x="1002" y="247.6">3</text><text class="t" x="1002" y="257.8">3</text><text class="t" x="1002" y="268">3</text>
<text class="t" x="1002" y="278.2">2</text><text class="t" x="1002" y="288.4">2</text><text class="t" x="1002" y="298.6">2</text><text class="t" x="1002" y="308.8">2</text><text class="t" x="1002" y="319">2</text><text class="t" x="1002" y="329.2">2</text><text class="t" x="1002" y="339.4">2</text><text class="t" x="1002" y="349.6">2</text><text class="t" x="1002" y="359.8">2</text><text class="t" x="1002" y="370">2</text><text class="t" x="1002" y="380.2">2</text><text class="t" x="1002" y="390.4">2</text><text class="t" x="1002" y="400.6">2</text><text class="t" x="1002" y="410.8">2</text><text class="t" x="1002" y="421">2</text><text class="t" x="1002" y="431.2">2</text><text class="t" x="1002" y="441.4">2</text><text class="t" x="1002" y="451.6">2</text><text class="t" x="1002" y="461.8">2</text><text class="t" x="1002" y="472">2</text><text class="t" x="1002" y="482.2">2</text><text class="t" x="1002" y="492.4">2</text><text class="t" x="1002" y="502.6">2</text><text class="t" x="1002" y="512.8">2</text><text class="t" x="1002" y="523">2</text><text class="t" x="1002" y="533.2">2</text><text class="t" x="1002" y="543.4">2</text><text class="t" x="1002" y="553.6">2</text>
<text class="t" x="1002" y="563.8">1</text><text class="t" x="1002" y="574">1</text><text class="t" x="1002" y="584.2">1</text><text class="t" x="1002" y="594.4">1</text><text class="t" x="1002" y="604.6">1</text><text class="t" x="1002" y="614.8">1</text><text class="t" x="1002" y="625">1</text><text class="t" x="1002" y="635.2">1</text>
</g>

<rect x="0" y="636" width="1024" height="25" fill="#efefef"/>
<line x1="0" y1="636.5" x2="1024" y2="636.5" stroke="#d0d0d0"/>
<rect x="410" y="636" width="47" height="21" fill="#ffffff"/>
<rect x="413" y="655" width="42" height="2" fill="#217346"/>
<path d="M78.5 641V655M125.5 641V655M173.5 641V655M221.5 641V655M268.5 641V655M316.5 641V655M363.5 641V655M410.5 637V657M457.5 637V657M504.5 641V655" stroke="#c6c6c6" stroke-width="1" fill="none"/>
<polygon points="21,647 25,644 25,650" fill="#555"/>
<polygon points="45,644 49,647 45,650" fill="#bbb"/>
<text x="65" y="651" style="font-size:11px;text-anchor:middle;fill:#555">...</text>
<text class="tab" x="101.5" y="651">2409</text>
<text class="tab" x="149" y="651">2410</text>
<text class="tab" x="197" y="651">2411</text>
<text class="tab" x="244.5" y="651">2412</text>
<text class="tab" x="292" y="651">2501</text>
<text class="tab" x="339.5" y="651">2502</text>
<text class="tab" x="386.5" y="651">2503</text>
<text class="tab" x="433.5" y="651" style="fill:#217346">2504</text>
<text class="tab" x="481" y="651">2505</text>
<circle cx="536" cy="647" r="6" fill="none" stroke="#888" stroke-width="1"/>
<path d="M533 647H539M536 644V650" stroke="#888" stroke-width="1"/>
<circle cx="910" cy="643" r="0.8" fill="#999"/><circle cx="910" cy="647" r="0.8" fill="#999"/><circle cx="910" cy="651" r="0.8" fill="#999"/>
<rect x="921.5" y="640.5" width="103" height="13" fill="#fff" stroke="#bbb"/>
<polygon points="926,647 929,644.5 929,649.5" fill="#555"/>
<line x1="931.5" y1="641" x2="931.5" y2="653" stroke="#ccc"/>
<line x1="0" y1="659.5" x2="1024" y2="659.5" stroke="#e2e2e2"/>
</svg>
</body></html>
